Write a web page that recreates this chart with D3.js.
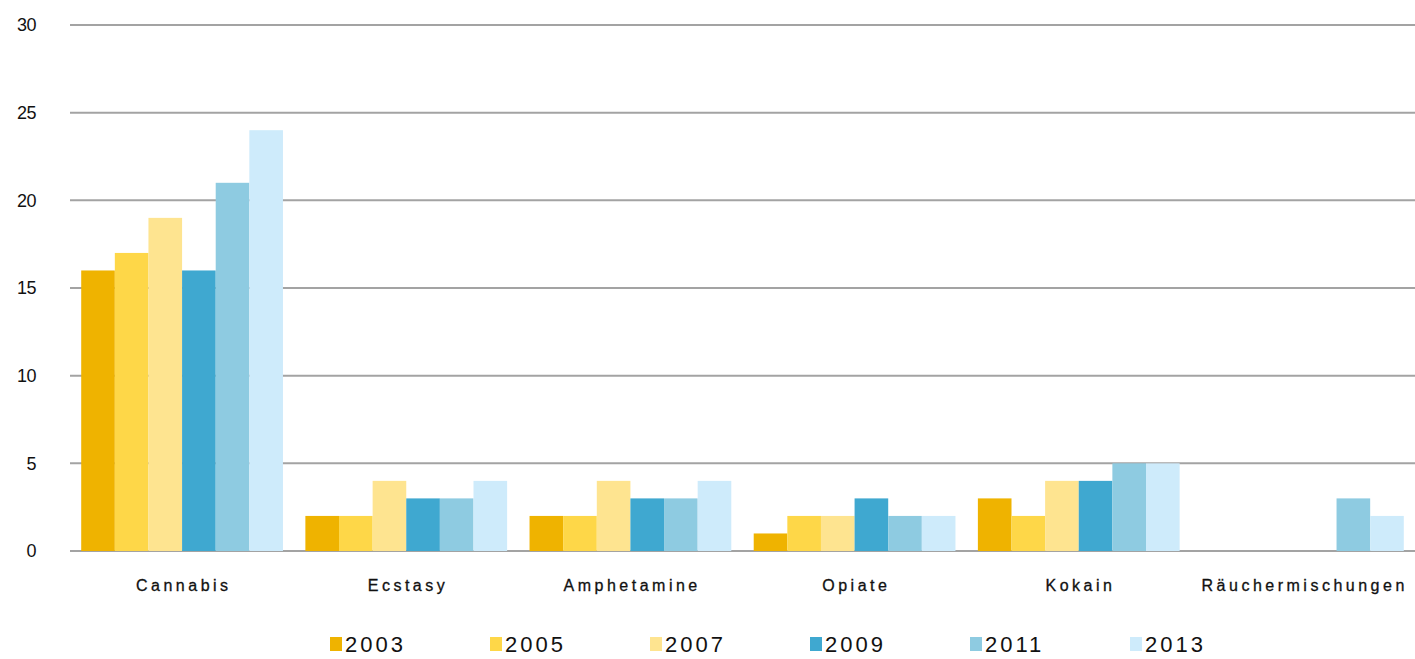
<!DOCTYPE html>
<html>
<head>
<meta charset="utf-8">
<script src="https://cdn.jsdelivr.net/npm/d3@7/dist/d3.min.js"></script>
<style>
  html, body { margin: 0; padding: 0; background: #fff; overflow: hidden; }
  svg { display: block; }
  text { font-family: "Liberation Sans", "DejaVu Sans", sans-serif; fill: #111; }
</style>
</head>
<body>
<div id="chart"></div>
<script>
// data
var categories = ['Cannabis', 'Ecstasy', 'Amphetamine', 'Opiate', 'Kokain', 'Räuchermischungen'];
var years = ['2003', '2005', '2007', '2009', '2011', '2013'];
var values2003 = [16, 2, 2, 1, 3, 0];
var values2005 = [17, 2, 2, 2, 2, 0];
var values2007 = [19, 4, 4, 2, 4, 0];
var values2009 = [16, 3, 3, 3, 4, 0];
var values2011 = [21, 3, 3, 2, 5, 3];
var values2013 = [24, 4, 4, 2, 5, 2];
var yTicks = [0, 5, 10, 15, 20, 25, 30];
var colors = ['#efb300', '#fed748', '#fee490', '#3fa8d0', '#8ecbe1', '#ceebfb'];

var series = [values2003, values2005, values2007, values2009, values2011, values2013];

var width = 1415;
var height = 659;
var margin = { top: 25, right: 0, bottom: 108, left: 70 };
var innerWidth = width - margin.left - margin.right;
var innerHeight = height - margin.top - margin.bottom;

var svg = d3.select('#chart')
    .append('svg')
    .attr('width', width)
    .attr('height', height);

var g = svg.append('g')
    .attr('transform', 'translate(' + margin.left + ',' + margin.top + ')');

var x0 = d3.scaleBand()
    .domain(categories)
    .range([0, innerWidth])
    .paddingInner(0.1)
    .paddingOuter(0.05);

var x1 = d3.scaleBand()
    .domain(years)
    .range([0, x0.bandwidth()]);

var y = d3.scaleLinear()
    .domain([0, 30])
    .range([innerHeight, 0]);

// gridlines
g.selectAll('.grid')
    .data(yTicks)
    .enter()
    .append('line')
    .attr('x1', 0)
    .attr('x2', innerWidth)
    .attr('y1', d => y(d))
    .attr('y2', d => y(d))
    .style('stroke', '#a3a3a3')
    .style('stroke-width', 2);

// y labels
g.selectAll('.ylab')
    .data(yTicks)
    .enter()
    .append('text')
    .attr('x', -34)
    .attr('y', d => y(d))
    .attr('dy', '0.35em')
    .attr('text-anchor', 'end')
    .style('font-size', '18px')
    .style('letter-spacing', '-0.5px')
    .text(d => d);

// bars
var groups = g.selectAll('.cat')
    .data(categories)
    .enter()
    .append('g')
    .attr('transform', d => 'translate(' + x0(d) + ',0)');

groups.selectAll('rect')
    .data((d, i) => years.map((yr, j) => ({ year: yr, value: series[j][i], color: colors[j] })))
    .enter()
    .append('rect')
    .attr('x', d => x1(d.year))
    .attr('width', x1.bandwidth())
    .attr('y', d => y(d.value))
    .attr('height', d => innerHeight - y(d.value))
    .style('fill', d => d.color);

// category labels
var catSpacing = 3.5;
g.selectAll('.xlab')
    .data(categories)
    .enter()
    .append('text')
    .attr('x', d => x0(d) + x0.bandwidth() / 2 + catSpacing / 2)
    .attr('y', innerHeight + 40)
    .attr('text-anchor', 'middle')
    .style('font-size', '16px')
    .style('letter-spacing', catSpacing + 'px')
    .style('stroke', '#111')
    .style('stroke-width', 0.3)
    .text(d => d);

// legend
var legend = svg.append('g')
    .attr('transform', 'translate(330,637)');

var item = legend.selectAll('.item')
    .data(years)
    .enter()
    .append('g')
    .attr('transform', (d, i) => 'translate(' + (i * 160) + ',0)');

item.append('rect')
    .attr('width', 12)
    .attr('height', 14)
    .style('fill', (d, i) => colors[i]);

item.append('text')
    .attr('x', 15)
    .attr('y', 7)
    .attr('dy', '0.35em')
    .style('font-size', '22px')
    .style('letter-spacing', '3px')
    .text(d => d);
</script>
</body>
</html>
